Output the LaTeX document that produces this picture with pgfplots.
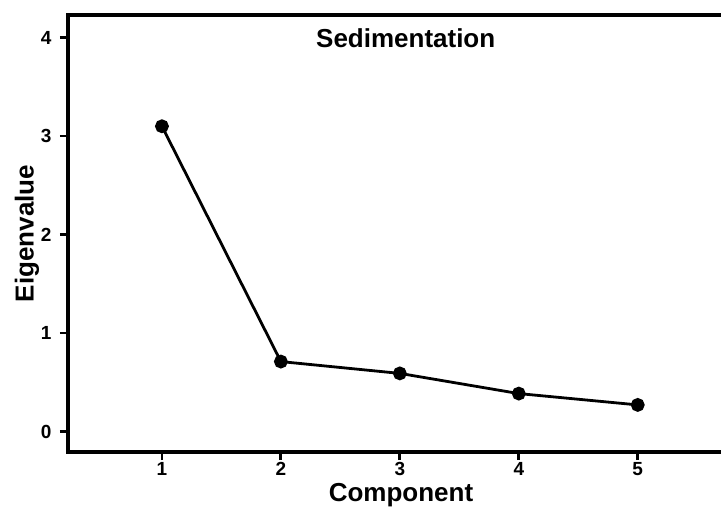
\documentclass[border=0pt]{standalone}
\usepackage{pgfplots}
\pgfplotsset{compat=1.18}
\usepackage{fontspec}
\setmainfont{Liberation Sans}
\newcommand{\tl}[1]{{\fontsize{19}{21}\selectfont\bfseries #1}}
\begin{document}
\begin{tikzpicture}
\begin{axis}[
  scale only axis,
  width=677pt, height=437.3pt,
  xmin=0.21, xmax=5.9, ymin=-0.21, ymax=4.23,
  xtick={1,2,3,4,5}, ytick={0,1,2,3,4},
  xticklabels={\tl{1},\tl{2},\tl{3},\tl{4},\tl{5}},
  yticklabels={\tl{0},\tl{1},\tl{2},\tl{3},\tl{4}},
  xtick pos=bottom, ytick pos=left,
  tick align=outside,
  major tick length=8pt,
  every tick/.style={black, line width=2.8pt},
  axis line style={line width=3.4pt},
  yticklabel style={xshift=-5pt},
  xticklabel style={yshift=1pt},
  xlabel={Component}, ylabel={Eigenvalue},
  every axis x label/.style={at={(axis description cs:0.492,0)}, yshift=-43pt, anchor=center, font=\bfseries\fontsize{26}{30}\selectfont},
  every axis y label/.style={at={(axis description cs:0,0.5)}, xshift=-41pt, rotate=90, anchor=center, font=\bfseries\fontsize{26}{30}\selectfont},
  title={Sedimentation},
  every axis title/.style={at={(axis description cs:0.499,0.947)}, anchor=center, font=\bfseries\fontsize{26}{30}\selectfont},
  clip=false,
]
\addplot[black, line width=2.8pt, mark=*, mark size=5.5pt] coordinates {
  (1,3.10) (2,0.71) (3,0.59) (4,0.385) (5,0.27)
};
\coordinate (bl) at (axis cs:0.21,-0.21);
\coordinate (tr) at (axis cs:5.70,4.23);
\end{axis}
\pgfresetboundingbox
\path[use as bounding box] ([xshift=-68pt,yshift=-55pt]bl) rectangle ([yshift=15pt]tr);
\end{tikzpicture}
\end{document}
